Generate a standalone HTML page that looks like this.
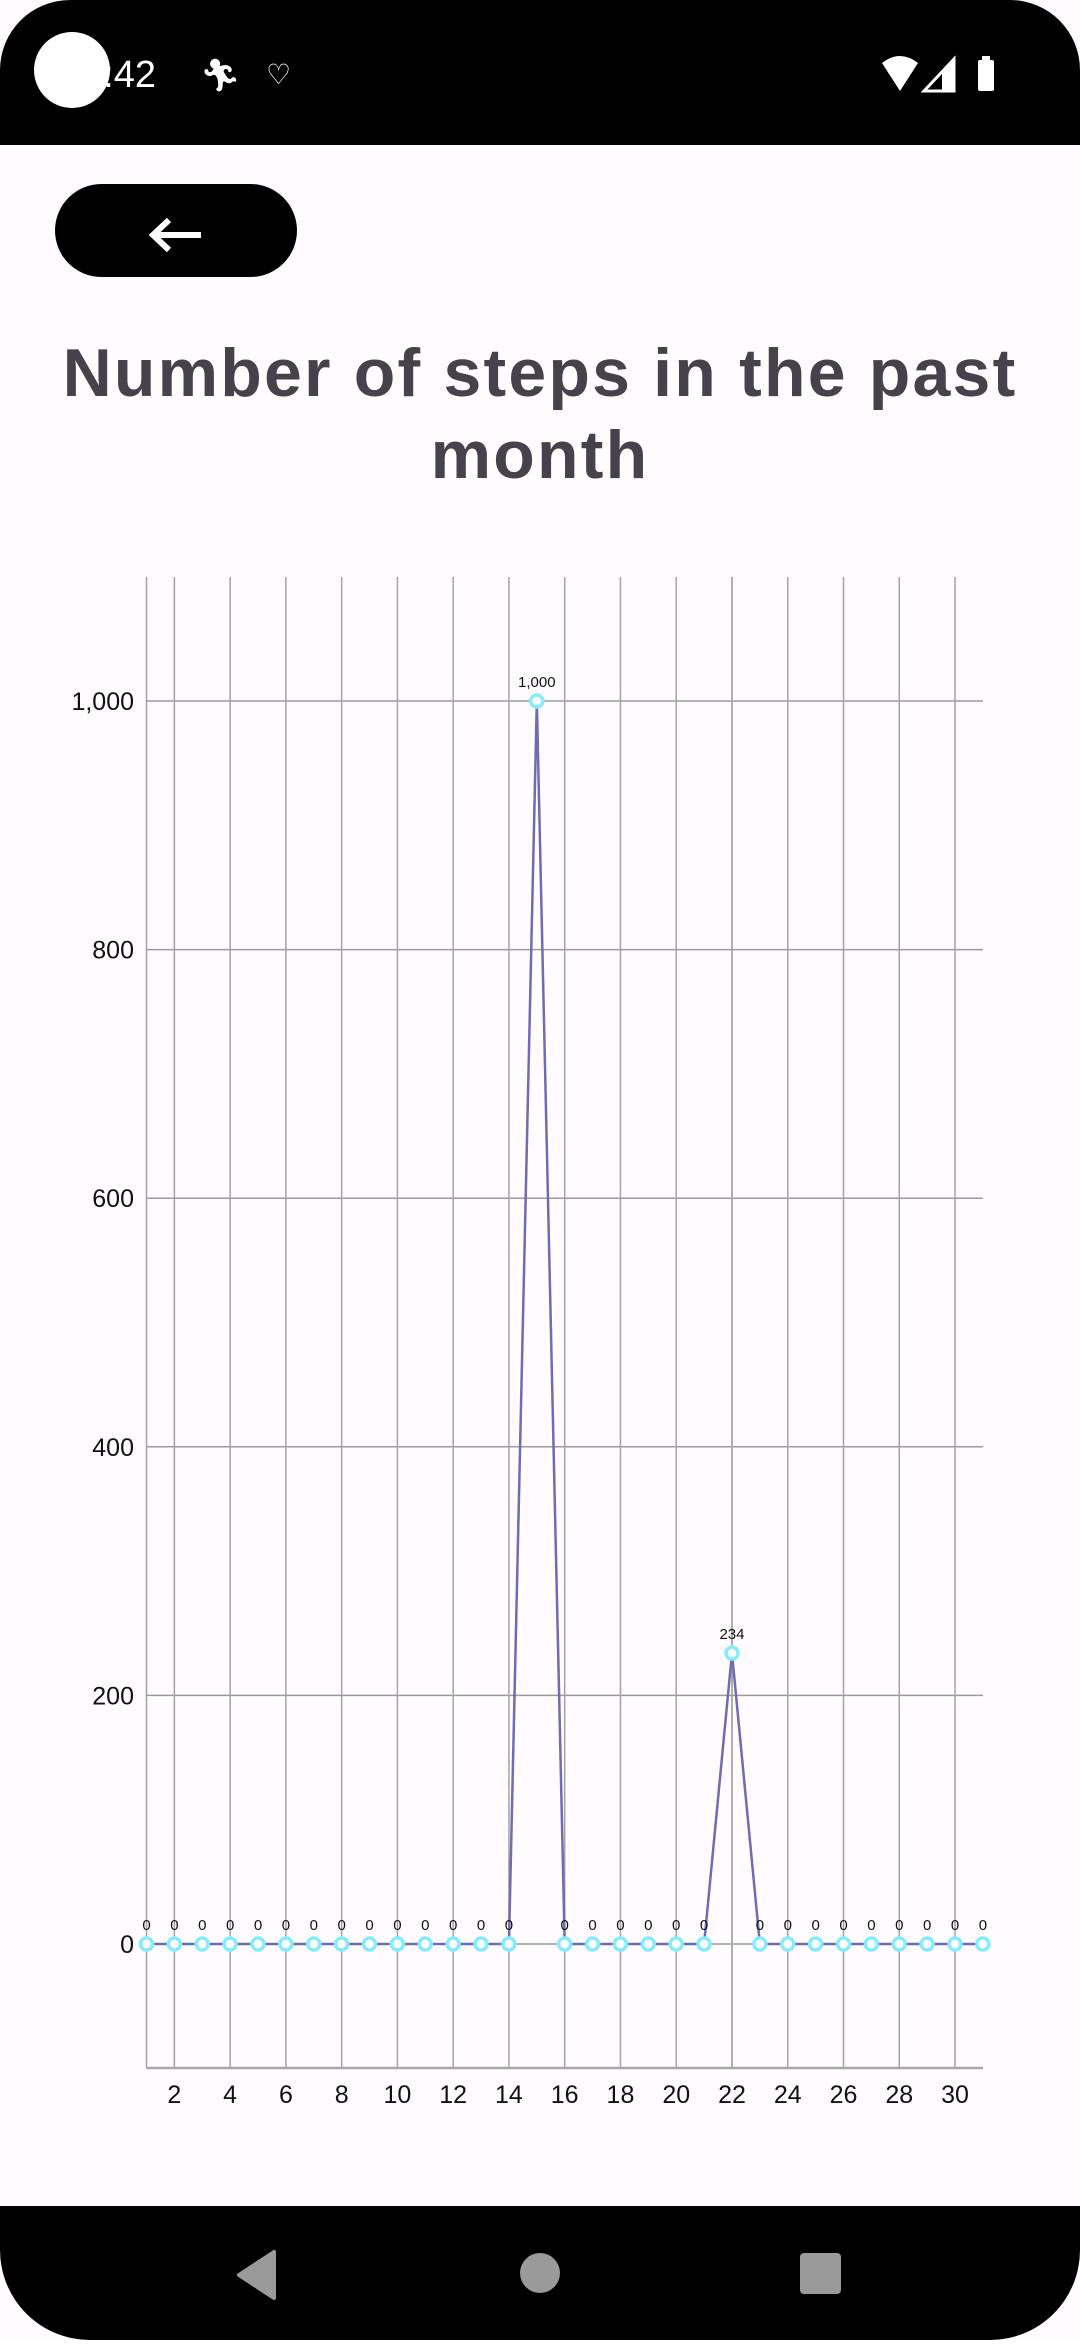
<!DOCTYPE html>
<html><head><meta charset="utf-8">
<style>
html,body{margin:0;padding:0;}
body{width:1080px;height:2340px;position:relative;background:#fff;overflow:hidden;font-family:"Liberation Sans",sans-serif;}
#screen{position:absolute;left:0;top:0;width:1080px;height:2340px;background:#fffbfe;}
#status{position:absolute;left:0;top:0;width:1080px;height:145px;background:#000;border-radius:70px 70px 0 0;}
#nav{position:absolute;left:0;top:2206px;width:1080px;height:134px;background:#000;border-radius:0 0 90px 90px;}
</style></head>
<body>
<div id="screen">
  <div id="status">
    <div style="position:absolute;left:82px;top:54px;color:#fff;font-size:38px;">1:42</div>
    <div style="position:absolute;left:34px;top:32px;width:76px;height:76px;border-radius:50%;background:#fff;"></div>
    <div style="position:absolute;left:200px;top:56px;color:#fff;font-size:32px;">🏃︎</div>
    <div style="position:absolute;left:266px;top:58px;color:#fff;font-size:28px;">♡</div>
    <svg style="position:absolute;left:880px;top:55px" width="130" height="40">
      <path d="M2,8 Q20,-6 38,8 L20,36 Z" fill="#fff"/>
      <path d="M44,36 L74,4 L74,36 Z" fill="none" stroke="#fff" stroke-width="3"/>
      <path d="M62,18 L74,4 L74,36 L62,36Z" fill="#fff"/>
      <rect x="98" y="5" width="16" height="31" rx="2" fill="#fff"/><rect x="102" y="1" width="8" height="5" fill="#fff"/>
    </svg>
  </div>
  <div style="position:absolute;left:55px;top:184px;width:242px;height:93px;border-radius:47px;background:#000;">
    <svg width="242" height="93"><path d="M97,51 L146,51 M114,36 L98,51 L114,66" stroke="#fff" stroke-width="6" fill="none"/></svg>
  </div>
  <div style="position:absolute;left:0;top:332px;width:1080px;text-align:center;font-size:68px;line-height:82px;color:#45424b;font-weight:bold;letter-spacing:2.2px;">Number of steps in the past<br>month</div>
  <svg id="chart" style="position:absolute;left:0;top:0" width="1080" height="2206"></svg>
  <div id="nav">
    <svg width="1080" height="134">
      <path d="M274,46 L274,92 L239,69 Z" fill="#9a9a9a" stroke="#9a9a9a" stroke-linejoin="round" stroke-width="4"/>
      <circle cx="540" cy="67" r="20" fill="#9a9a9a"/>
      <rect x="800" y="47" width="41" height="41" rx="4" fill="#9a9a9a"/>
    </svg>
  </div>
</div>
<script>
const days = [1,2,3,4,5,6,7,8,9,10,11,12,13,14,15,16,17,18,19,20,21,22,23,24,25,26,27,28,29,30,31];
const steps = [0,0,0,0,0,0,0,0,0,0,0,0,0,0,1000,0,0,0,0,0,0,234,0,0,0,0,0,0,0,0,0];
const yTicks = [0,200,400,600,800,1000];
const yTickLabels = ["0","200","400","600","800","1,000"];
const xTicks = [2,4,6,8,10,12,14,16,18,20,22,24,26,28,30];

const svg = document.getElementById('chart');
const NS = 'http://www.w3.org/2000/svg';
const X0 = 146.5, XSTEP = 27.88, Y0 = 1944, YPER = 1243/1000;
const TOP = 577, BOTTOM = 2068, RIGHT = 983;
function xs(d){ return X0 + (d - 1) * XSTEP; }
function ys(v){ return Y0 - v * YPER; }
function mk(tag, attrs){ const e = document.createElementNS(NS, tag); for (const k in attrs) e.setAttribute(k, attrs[k]); svg.appendChild(e); return e; }

yTicks.forEach((v, i) => {
  const l = mk('line', {x1: X0, x2: RIGHT, y1: ys(v), y2: ys(v), stroke: '#9b9b9b', 'stroke-width': 1.5});
  
  
  const t = mk('text', {x: 134, y: ys(v) + 9, 'text-anchor': 'end', 'font-size': 25, fill: '#111', 'font-family': 'Liberation Sans, sans-serif'});
  t.textContent = yTickLabels[i];
  
  
});
const vg = [1].concat(xTicks, [22]);
vg.forEach(d => {
  const l = mk('line', {x1: xs(d), x2: xs(d), y1: TOP, y2: BOTTOM, stroke: '#a3a3a3', 'stroke-width': 1.5});
  
  
});
xTicks.forEach(d => {
  const t = mk('text', {x: xs(d), y: 2103, 'text-anchor': 'middle', 'font-size': 25, fill: '#111', 'font-family': 'Liberation Sans, sans-serif'});
  t.textContent = String(d);
  
  
});
const ax = mk('line', {x1: X0, x2: RIGHT, y1: BOTTOM, y2: BOTTOM, stroke: '#a8a8a8', 'stroke-width': 2.5});



const pts = days.map((d, i) => xs(d) + ',' + ys(steps[i])).join(' ');
const pl = mk('polyline', {points: pts, fill: 'none', stroke: '#6f6cb0', 'stroke-width': 2.5});



days.forEach((d, i) => {
  const c = mk('circle', {cx: xs(d), cy: ys(steps[i]), r: 6, fill: '#fff', stroke: '#86ecfc', 'stroke-width': 3.5});
  
  
  const t = mk('text', {x: xs(d), y: ys(steps[i]) - 14, 'text-anchor': 'middle', 'font-size': 15, fill: '#111', 'font-family': 'Liberation Sans, sans-serif'});
  t.textContent = steps[i].toLocaleString('en-US');
  
  
});
</script>
</body></html>
